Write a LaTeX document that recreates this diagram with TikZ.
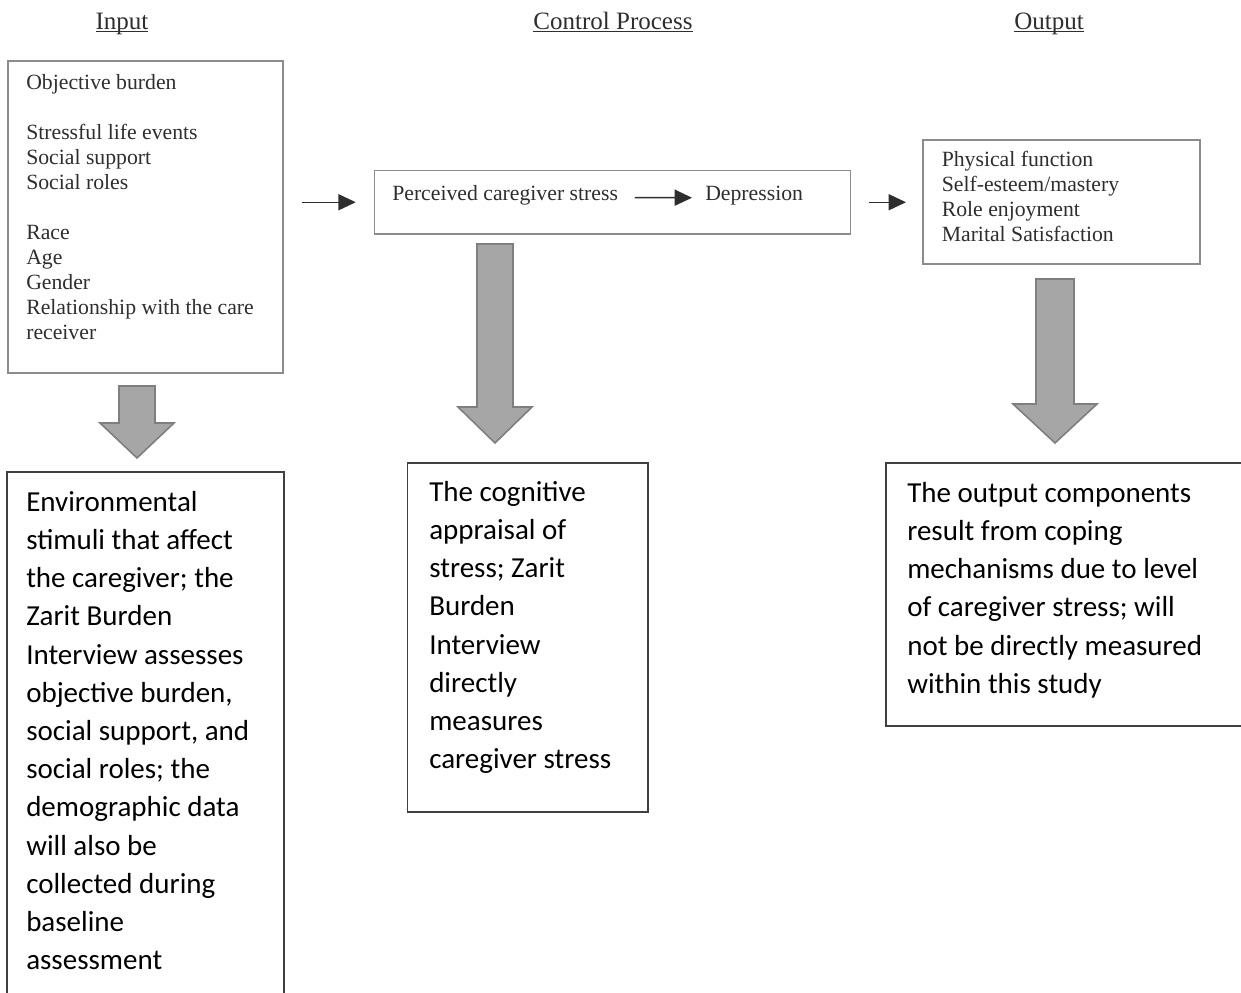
\documentclass[tikz,border=0pt]{standalone}
\usepackage{fontspec}
\setmainfont{Liberation Serif}
\newfontfamily\notefont{Carlito}
\usetikzlibrary{arrows.meta,positioning,fit,calc}
\definecolor{ScanGray}{HTML}{8C8C8C}
\definecolor{ScanText}{HTML}{2E2E2E}
\definecolor{ArrowFill}{HTML}{A6A6A6}
\definecolor{ArrowEdge}{HTML}{7F7F7F}
\definecolor{NoteEdge}{HTML}{404040}

\newcommand{\blockarrow}[6]{%
  \draw[blockarr] (#1-#5,#2) -- (#1+#5,#2) -- (#1+#5,#3) -- (#1+#6,#3)
    -- (#1,#4) -- (#1-#6,#3) -- (#1-#5,#3) -- cycle;}

\begin{document}
\begin{tikzpicture}[
  x=0.75pt, y=-0.75pt,
  box/.style={draw=ScanGray, line width=1.1pt, inner sep=0pt},
  note/.style={draw=NoteEdge, line width=1.1pt, inner sep=0pt},
  heading/.style={font=\fontsize{18.75pt}{22pt}\selectfont, text=ScanText,
    inner sep=0pt, anchor=base},
  toptext/.style={font=\fontsize{16.3pt}{18.75pt}\selectfont, text=ScanText,
    align=left, inner sep=0pt},
  notetext/.style={font=\notefont\fontsize{21.75pt}{28.65pt}\selectfont,
    align=left, inner sep=0pt, anchor=north west},
  flow/.style={-{Triangle[length=13pt,width=12pt]}, line width=1.1pt, draw=ScanText},
  blockarr/.style={fill=ArrowFill, draw=ArrowEdge, line width=1.2pt}
]

\useasboundingbox (0,0) rectangle (1241,992);
\clip (0,0) rectangle (1241,992);

\node[heading] (hin) at (122,29) {\underline{\smash{Input}}};
\node[heading] (hctrl) at (613,29) {\underline{\smash{Control Process}}};
\node[heading] (hout) at (1049,29) {\underline{\smash{Output}}};

% model boxes
\node[box, fit={(8,61) (283,373)}] (inbox) {};
\node[toptext, anchor=north west] (intext) at (26,69.5) {\rule{0pt}{15pt}Objective burden\\[18.75pt]
  Stressful life events\\
  Social support\\
  Social roles\\[18.75pt]
  Race\\
  Age\\
  Gender\\
  Relationship with the care\\
  receiver};

\node[box, fit={(374.5,170.5) (850.5,234)}] (ctrlbox) {};
\node[toptext, anchor=base west] (perc) at (392,200) {Perceived caregiver stress};
\node[toptext, anchor=base west] (depr) at (705,200) {Depression};

\node[box, fit={(923,140) (1200,264)}] (outbox) {};
\node[toptext, anchor=north west] (outtext) at (941.5,146.5) {\rule{0pt}{15pt}Physical function\\
  Self-esteem/mastery\\
  Role enjoyment\\
  Marital Satisfaction};

\draw[flow, shorten <=13.5pt, shorten >=13.5pt] (inbox.east |- ctrlbox.west) -- (ctrlbox.west);
\draw[flow, shorten <=12.4pt, shorten >=9.75pt] ([yshift=-2pt]perc.east) -- ([yshift=-2pt]depr.west);
\draw[flow, shorten <=13.1pt, shorten >=12.2pt] (ctrlbox.east) -- (outbox.west |- ctrlbox.east);

% explanation boxes
\node[note, fit={(7,472) (284,1010)}] (innote) {};
\node[notetext] (innotetext) at (26,484.3) {\rule{0pt}{20pt}Environmental\\
  stimuli that affect\\
  the caregiver; the\\
  Zarit Burden\\
  Interview assesses\\
  objective burden,\\
  social support, and\\
  social roles; the\\
  demographic data\\
  will also be\\
  collected during\\
  baseline\\
  assessment};

\node[note, fit={(407.5,463) (648,812)}] (ctrlnote) {};
\node[notetext] (ctrlnotetext) at (429,474.3) {\rule{0pt}{20pt}The cognitive\\
  appraisal of\\
  stress; Zarit\\
  Burden\\
  Interview\\
  directly\\
  measures\\
  caregiver stress};

\node[note, fit={(886,463) (1260,726)}] (outnote) {};
\node[notetext] (outnotetext) at (907,475.3) {\rule{0pt}{20pt}The output components\\
  result from coping\\
  mechanisms due to level\\
  of caregiver stress; will\\
  not be directly measured\\
  within this study};

\blockarrow{137}{386}{423}{458}{18}{37}
\blockarrow{495}{244}{407}{443}{18}{37}
\blockarrow{1055}{279}{404}{443}{19}{42}

\end{tikzpicture}
\end{document}
